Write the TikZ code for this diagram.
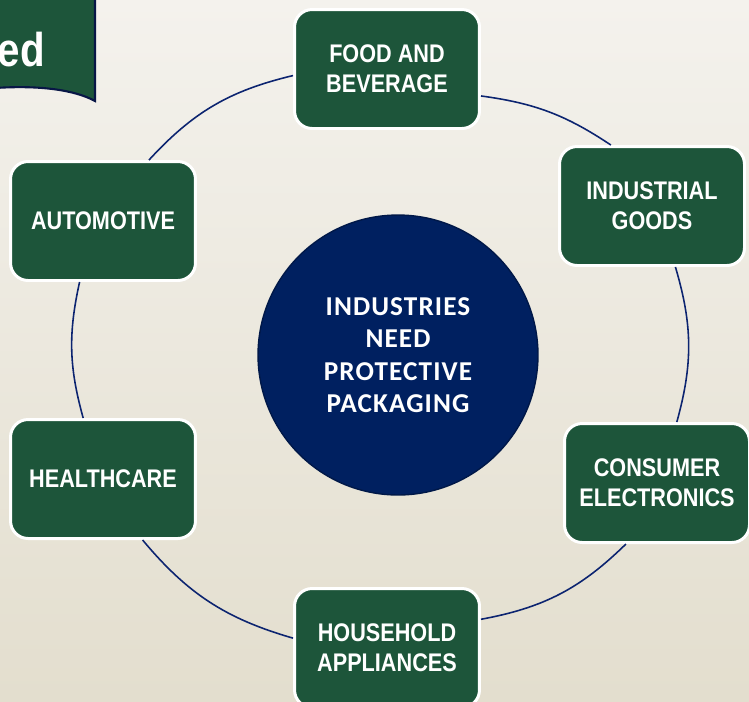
\documentclass[tikz,border=0pt]{standalone}
\usepackage{fontspec}
\newfontfamily\boxfont[FakeStretch=0.85]{Liberation Sans}
\newfontfamily\hubfont[LetterSpace=4]{Carlito}
\definecolor{boxgreen}{RGB}{29,85,58}
\definecolor{hubnavy}{RGB}{0,32,96}
\definecolor{ringnavy}{RGB}{12,36,112}
\definecolor{titlenavy}{RGB}{8,22,70}
\definecolor{bgtop}{RGB}{244,242,237}
\definecolor{bgbottom}{RGB}{227,222,206}
\begin{document}
\begin{tikzpicture}[x=0.02cm,y=-0.02cm,
    sector/.style={rectangle,rounded corners=10pt,fill=boxgreen,draw=white,line width=1.7pt,
        minimum width=3.7cm,minimum height=2.38cm,align=center,text=white,
        font=\boxfont\bfseries\fontsize{14.5}{17}\selectfont},
    hub/.style={circle,fill=hubnavy,draw=hubnavy!75!black,line width=0.8pt,minimum size=5.6cm,
        align=center,text=white,font=\hubfont\bfseries\fontsize{15.5}{18.4}\selectfont},
    link/.style={draw=ringnavy,line width=0.9pt}]
\useasboundingbox (0,0) rectangle (749,701);
\shade[top color=bgtop,bottom color=bgbottom] (0,0) rectangle (749,701);

% title tab, cut by the page edge
\draw[fill=boxgreen,draw=titlenavy,line width=1.2pt] (-5,-5)--(95,-5)--(95,101)
    .. controls (75,90) and (40,85) .. (-5,88)--cycle;
\node[anchor=base east,text=white,font=\boxfont\bfseries\fontsize{27}{30}\selectfont] (title) at (51,66) {ed};

\node[hub] (hub) at (398,355) {INDUSTRIES\\NEED\\PROTECTIVE\\PACKAGING};

\foreach \x/\y/\name/\txt in {387/69/food/{FOOD AND\\BEVERAGE},652/206/indus/{INDUSTRIAL\\GOODS},
    657/483/cons/{CONSUMER\\ELECTRONICS},387/648/house/{HOUSEHOLD\\APPLIANCES},
    103/479/health/HEALTHCARE,103/221/auto/AUTOMOTIVE}
{
    \node[sector] (\name) at (\x,\y) {\txt};
}

% ring pieces between the boxes
\foreach \a/\sa/\b/\eb/\bend in {food/-16/indus/124/13,indus/-69/cons/72/16,
    cons/-117/house/17/17,house/174/health/-57/17,
    health/108/auto/-111/14,auto/53/food/184/17}
{
    \draw[link] (\a.\sa) to[bend left=\bend] (\b.\eb);
}
\end{tikzpicture}
\end{document}
